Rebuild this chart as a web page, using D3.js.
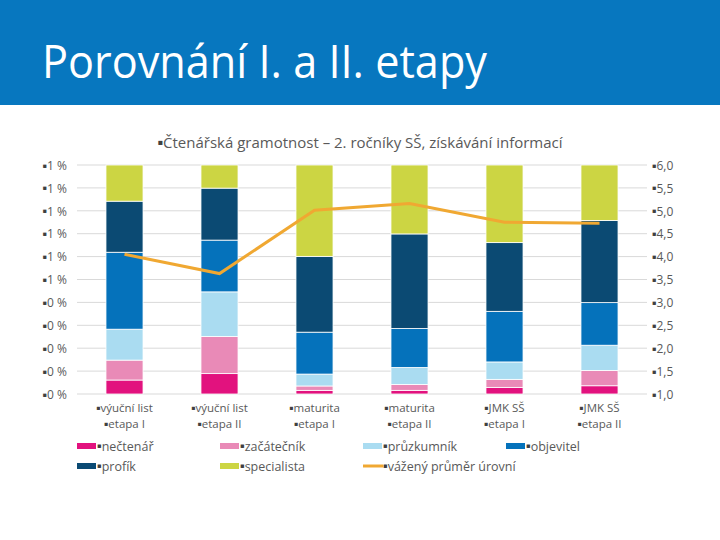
<!DOCTYPE html>
<html>
<head>
<meta charset="utf-8">
<script src="https://cdn.jsdelivr.net/npm/d3@7/dist/d3.min.js"></script>
<style>
    body { margin: 0; background: #fff; }
    text { font-family: "Open Sans", "Noto Sans", sans-serif; }
</style>
</head>
<body>
<script>
// kategorie (dva řádky popisku)
var catLine1 = ["výuční list", "výuční list", "maturita", "maturita", "JMK SŠ", "JMK SŠ"]
var catLine2 = ["etapa I", "etapa II", "etapa I", "etapa II", "etapa I", "etapa II"]

// podíly úrovní v %
var necetnar = [6.1, 8.9, 1.6, 1.6, 2.9, 3.6]
var zacatecnik = [8.7, 16.2, 1.9, 2.6, 3.5, 6.7]
var pruzkumnik = [13.5, 19.5, 5.2, 7.4, 7.6, 11.0]
var objevitel = [33.6, 22.6, 18.3, 17.0, 22.1, 18.6]
var profik = [22.3, 22.7, 33.1, 41.3, 30.0, 35.9]
var specialista = [15.8, 10.1, 39.9, 30.1, 33.9, 24.2]

// vážený průměr úrovní (pravá osa)
var prumer = [4.05, 3.63, 5.01, 5.16, 4.75, 4.73]

var seriesNames = ["nečtenář", "začátečník", "průzkumník", "objevitel", "profík", "specialista"]
var seriesValues = [necetnar, zacatecnik, pruzkumnik, objevitel, profik, specialista]
var seriesColors = ["#E2127E", "#E98AB7", "#AADCF1", "#0572BB", "#0B4A73", "#CCD543"]
var lineName = "vážený průměr úrovní"
var lineColor = "#F0A832"

var leftTicks = [0, 10, 20, 30, 40, 50, 60, 70, 80, 90, 100]
var rightTicks = [1, 1.5, 2, 2.5, 3, 3.5, 4, 4.5, 5, 5.5, 6]

var W = 720, H = 540
var plot = {left: 77, right: 647, top: 165, bottom: 394}
var textColor = "#595959"

var svg = d3.select("body").append("svg").attr("width", W).attr("height", H)

// hlavička
svg.append("rect").attr("x", 0).attr("y", 0).attr("width", W).attr("height", 105).attr("fill", "#0777BF")
svg.append("text").attr("x", 42).attr("y", 78)
    .attr("fill", "#fff").attr("font-size", 46)
    .attr("textLength", 445).attr("lengthAdjust", "spacingAndGlyphs")
    .text("Porovnání I. a II. etapy")

// text s odrážkou ▪ (odrážka posunutá do středu výšky písma)
function bulletText(sel, str, size, base) {
    base = base || 0
    sel.append("tspan").attr("font-family", "DejaVu Sans").attr("font-size", size * 0.55)
        .attr("fill", "#404040").attr("dy", base - size * 0.18).text("▪")
    sel.append("tspan").attr("dy", size * 0.18).text(str)
    return sel
}

var sub = svg.append("text").attr("x", 360).attr("y", 148).attr("text-anchor", "middle")
    .attr("font-size", 15).attr("fill", textColor)
bulletText(sub, "Čtenářská gramotnost – 2. ročníky SŠ, získávání informací", 15)

var idx = d3.range(catLine1.length)
var x = d3.scaleBand().domain(idx).range([plot.left, plot.right]).paddingInner(0.61).paddingOuter(0.305)
var y = d3.scaleLinear().domain([0, 100]).range([plot.bottom, plot.top])
var y2 = d3.scaleLinear().domain([1, 6]).range([plot.bottom, plot.top])

// mřížka
svg.append("g").selectAll("line").data(leftTicks).enter().append("line")
    .attr("x1", plot.left).attr("x2", plot.right)
    .attr("y1", function (d) { return y(d) }).attr("y2", function (d) { return y(d) })
    .attr("stroke", "#D9D9D9").attr("stroke-width", 1)

// levá osa
var leftAxis = d3.axisLeft(y).tickValues(leftTicks).tickSize(0).tickPadding(10)
    .tickFormat(function (d) { return Math.round(d / 100) + " %" })
var gl = svg.append("g").attr("transform", "translate(" + plot.left + ",0)").call(leftAxis)
gl.select(".domain").remove()
gl.selectAll("text").each(function (d) {
    var t = d3.select(this).text("").attr("dy", null).attr("font-size", 12).attr("fill", textColor).attr("x", -10)
    bulletText(t, Math.round(d / 100) + " %", 12, 4.2)
})

// pravá osa
var rightAxis = d3.axisRight(y2).tickValues(rightTicks).tickSize(0).tickPadding(5)
var gr = svg.append("g").attr("transform", "translate(" + plot.right + ",0)").call(rightAxis)
gr.select(".domain").remove()
gr.selectAll("text").each(function (d) {
    var t = d3.select(this).text("").attr("dy", null).attr("font-size", 12).attr("fill", textColor).attr("x", 5)
    bulletText(t, d3.format(".1f")(d).replace(".", ","), 12, 4.2)
})

// skládané sloupce
var rows = idx.map(function (i) {
    var r = {i: i}
    seriesNames.forEach(function (n, k) { r[n] = seriesValues[k][i] })
    return r
})
var stack = d3.stack().keys(seriesNames)(rows)

svg.append("g").selectAll("g").data(stack).enter().append("g")
    .attr("fill", function (d, k) { return seriesColors[k] })
    .selectAll("rect").data(function (d) { return d }).enter().append("rect")
    .attr("x", function (d) { return x(d.data.i) })
    .attr("width", x.bandwidth())
    .attr("y", function (d) { return y(d[1]) })
    .attr("height", function (d) { return y(d[0]) - y(d[1]) })
    .attr("stroke", "#fff").attr("stroke-width", 0.8)

// čára průměru
var line = d3.line()
    .x(function (d, i) { return x(i) + x.bandwidth() / 2 })
    .y(function (d) { return y2(d) })
svg.append("path").datum(prumer).attr("d", line)
    .attr("fill", "none").attr("stroke", lineColor).attr("stroke-width", 3)

// popisky kategorií
var cat = svg.append("g").selectAll("g").data(idx).enter().append("g")
cat.each(function (i) {
    var g = d3.select(this)
    var cx = x(i) + x.bandwidth() / 2
    bulletText(g.append("text").attr("x", cx).attr("y", 412).attr("text-anchor", "middle")
        .attr("font-size", 11.5).attr("fill", textColor), catLine1[i], 11.5)
    bulletText(g.append("text").attr("x", cx).attr("y", 428).attr("text-anchor", "middle")
        .attr("font-size", 11.5).attr("fill", textColor), catLine2[i], 11.5)
})

// legenda
var legendItems = seriesNames.map(function (n, k) { return {name: n, color: seriesColors[k], type: "rect"} })
legendItems.push({name: lineName, color: lineColor, type: "line"})
var colX = [77, 220, 363, 506]
var rowY = [446, 466]
var leg = svg.append("g").selectAll("g").data(legendItems).enter().append("g")
    .attr("transform", function (d, k) {
        return "translate(" + colX[k % 4] + "," + rowY[Math.floor(k / 4)] + ")"
    })
leg.each(function (d) {
    var g = d3.select(this)
    if (d.type == "rect")
        g.append("rect").attr("x", 0).attr("y", -3).attr("width", 19).attr("height", 6).attr("fill", d.color)
    else
        g.append("line").attr("x1", 0).attr("x2", 20).attr("y1", 0).attr("y2", 0)
            .attr("stroke", d.color).attr("stroke-width", 3)
    bulletText(g.append("text").attr("x", 20).attr("y", 4.5)
        .attr("font-size", 12.5).attr("fill", textColor), d.name, 12.5)
})
</script>
</body>
</html>
